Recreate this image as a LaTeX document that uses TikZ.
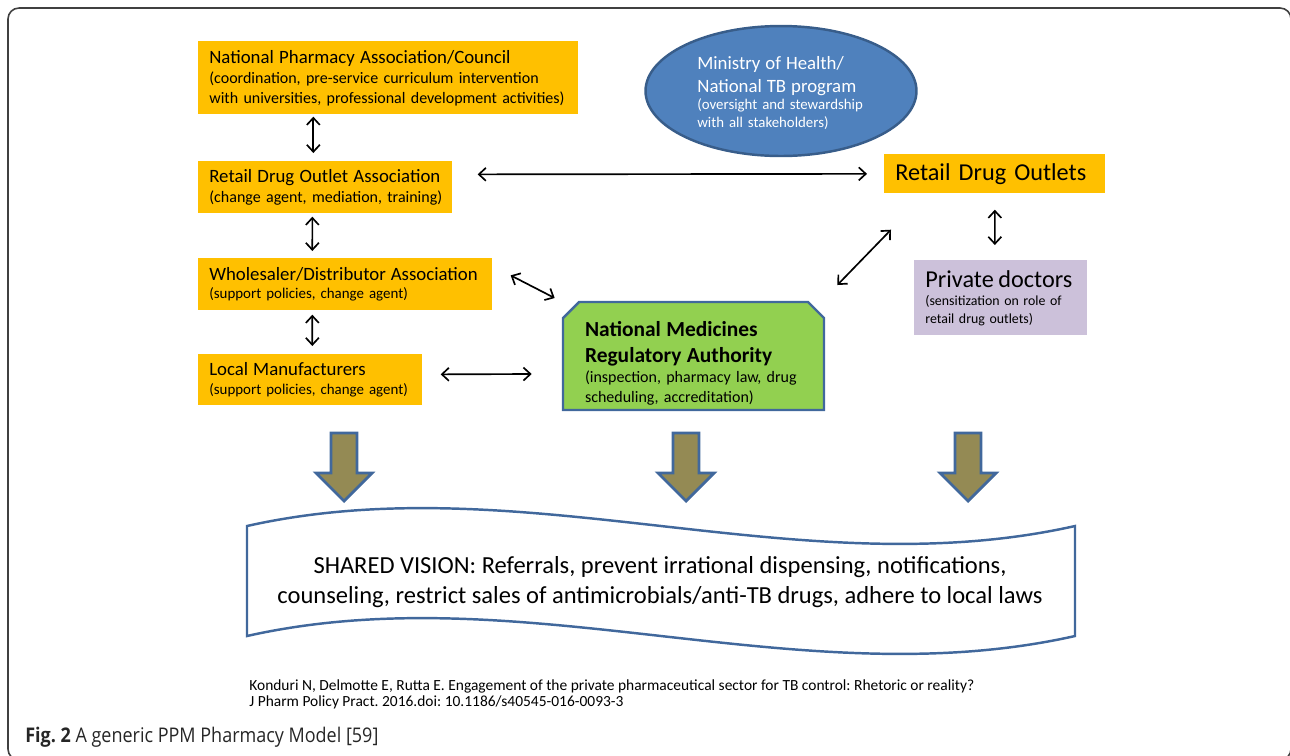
\documentclass[tikz,border=0pt]{standalone}
\usepackage{fontspec}
\setmainfont{Carlito}
\newfontfamily\capfont[FakeStretch=0.89]{Open Sans}
\usetikzlibrary{arrows.meta,shapes.geometric}
\frenchspacing

\definecolor{gold}{HTML}{FFC000}
\definecolor{mohblue}{HTML}{4F81BD}
\definecolor{mohedge}{HTML}{385D8A}
\definecolor{lilac}{HTML}{CCC1DA}
\definecolor{leaf}{HTML}{92D050}
\definecolor{steel}{HTML}{41689C}
\definecolor{olive}{HTML}{948A54}

\newcommand\headfont{\fontsize{10.7}{12}\selectfont}
\newcommand\notefont{\fontsize{9.1}{11.4}\selectfont}
\newcommand\smallnote{\fontsize{8.5}{10.4}\selectfont}
\newcommand\bigfont{\fontsize{13.8}{16}\selectfont}

\tikzset{
  assoc/.style={fill=gold, anchor=north west, align=left, inner xsep=0.1cm, inner ysep=0pt, font=\notefont,
    execute at begin node={\leftskip=0.12cm\hyphenpenalty=10000\relax}},
  link/.style={{Straight Barb[length=1.4mm,width=2.6mm]}-{Straight Barb[length=1.4mm,width=2.6mm]}, line width=0.95pt},
  bigarrow/.style={fill=olive, draw=steel, line width=1.6pt, line join=miter},
}

\begin{document}
\begin{tikzpicture}[x=0.02cm, y=-0.02cm]
\useasboundingbox (0,0) rectangle (1290,755);
% frame
\draw[black!75, line width=0.9pt, rounded corners=0.22cm] (8,8) rectangle (1291,760);

% associations
\node[assoc, text width=7.4cm, minimum height=1.46cm] (npa) at (198,41)
  {{\headfont National Pharmacy Association/Council\par}(coordination, pre-service curriculum intervention\\with universities, professional development activities)};
\node[assoc, text width=4.88cm, minimum height=1.04cm] (rdoa) at (198,161)
  {{\headfont Retail Drug Outlet Association\par}(change agent, mediation, training)};
\node[assoc, text width=5.68cm, minimum height=1.04cm, font=\smallnote] (wda) at (198,258)
  {{\headfont Wholesaler/Distributor Association\par}(support policies, change agent)};
\node[assoc, text width=4.28cm, minimum height=1.02cm, font=\smallnote] (lm) at (198,354)
  {{\headfont Local Manufacturers\par}(support policies, change agent)};

% ministry
\node[ellipse, fill=mohblue, draw=mohedge, line width=1.4pt, minimum width=5.42cm, minimum height=2.6cm] (moh) at (781,91) {};
\node[anchor=west, text=white, align=left, inner sep=0pt, text width=3.5cm, font=\fontsize{8.45}{10.2}\selectfont] (mohtext) at (697,93)
  {{\fontsize{10.7}{13}\selectfont Ministry of Health/\\National TB program\par}(oversight and stewardship\\with all stakeholders)};

% outlets and doctors
\node[assoc, text width=4.22cm, minimum height=0.78cm, font=\bigfont] (rdo) at (884,154) {Retail Drug Outlets};
\node[assoc, fill=lilac, text width=3.26cm, minimum height=1.5cm, font=\fontsize{7.9}{10.2}\selectfont] (pd) at (914,260)
  {{\bigfont Private doctors\par}(sensitization on role of\\retail drug outlets)};

% regulator
\draw[fill=leaf, draw=steel, line width=1.4pt] (563,410) -- (563,318) -- (579,302) -- (808,302) -- (824,318) -- (824,410) -- cycle;
\node[text width=4.34cm, inner xsep=0.44cm, inner ysep=0pt, minimum width=5.22cm, minimum height=2.16cm,
  align=left, font=\notefont] (nmra) at (693.5,356)
  {{\fontsize{12.2}{14.8}\selectfont\bfseries\rule{0pt}{17pt}National Medicines\\Regulatory Authority\par}(inspection, pharmacy law, drug\\scheduling, accreditation)};

% links
\draw[link] ([xshift=-1.5cm, yshift=-0.04cm]npa.south) -- ([xshift=-0.24cm, yshift=0.16cm]rdoa.north);
\draw[link] ([xshift=-0.26cm, yshift=-0.06cm]rdoa.south) -- ([xshift=-0.66cm, yshift=0.14cm]wda.north);
\draw[link] ([xshift=-0.66cm, yshift=-0.08cm]wda.south) -- ([xshift=0.04cm, yshift=0.16cm]lm.north);
\draw[link] ([xshift=0.5cm, yshift=0.26cm]rdoa.east) -- ([xshift=-0.34cm]rdo.west);
\draw[link] ([xshift=0.36cm, yshift=0.18cm]wda.east) -- ([xshift=-0.16cm, yshift=1.16cm]nmra.west);
\draw[link] ([xshift=0.36cm, yshift=0.11cm]lm.east) -- ([xshift=-0.62cm, yshift=-0.36cm]nmra.west);
\draw[link] ([xshift=0.26cm, yshift=1.42cm]nmra.east) -- ([xshift=0.14cm, yshift=-0.72cm]rdo.south west);
\draw[link] ([yshift=-0.32cm]rdo.south) -- ([xshift=-0.12cm, yshift=0.3cm]pd.north);

% down arrows
\foreach \x in {344,686,968}{
  \draw[bigarrow] (\x-13,433) -- (\x+13,433) -- (\x+13,473) -- (\x+28,473) -- (\x,501) -- (\x-28,473) -- (\x-13,473) -- cycle;
}

% shared vision banner
\draw[steel, line width=1.4pt, fill=white] (247,526) .. controls (523,464) and (799,588) .. (1075,526) -- (1075,636)
  .. controls (799,698) and (523,574) .. (247,636) -- cycle;
\node[align=center, font=\fontsize{13.95}{17}\selectfont] (vision) at (660,582)
  {SHARED VISION: Referrals, prevent irrational dispensing, notifications,\\counseling, restrict sales of antimicrobials/anti-TB drugs, adhere to local laws};

% source and caption
\node[anchor=north west, align=left, inner sep=0pt, font=\fontsize{8.8}{9.3}\selectfont] (cite) at (249,679)
  {Konduri N, Delmotte E, Rutta E. Engagement of the private pharmaceutical sector for TB control: Rhetoric or reality?\\J Pharm Policy Pract. 2016.doi: 10.1186/s40545-016-0093-3};
\node[anchor=base west, inner sep=0pt, text=black!85, font=\capfont\fontsize{11.5}{13}\selectfont] (caption) at (25,742)
  {\textbf{Fig. 2} A generic PPM Pharmacy Model [59]};
\end{tikzpicture}
\end{document}
